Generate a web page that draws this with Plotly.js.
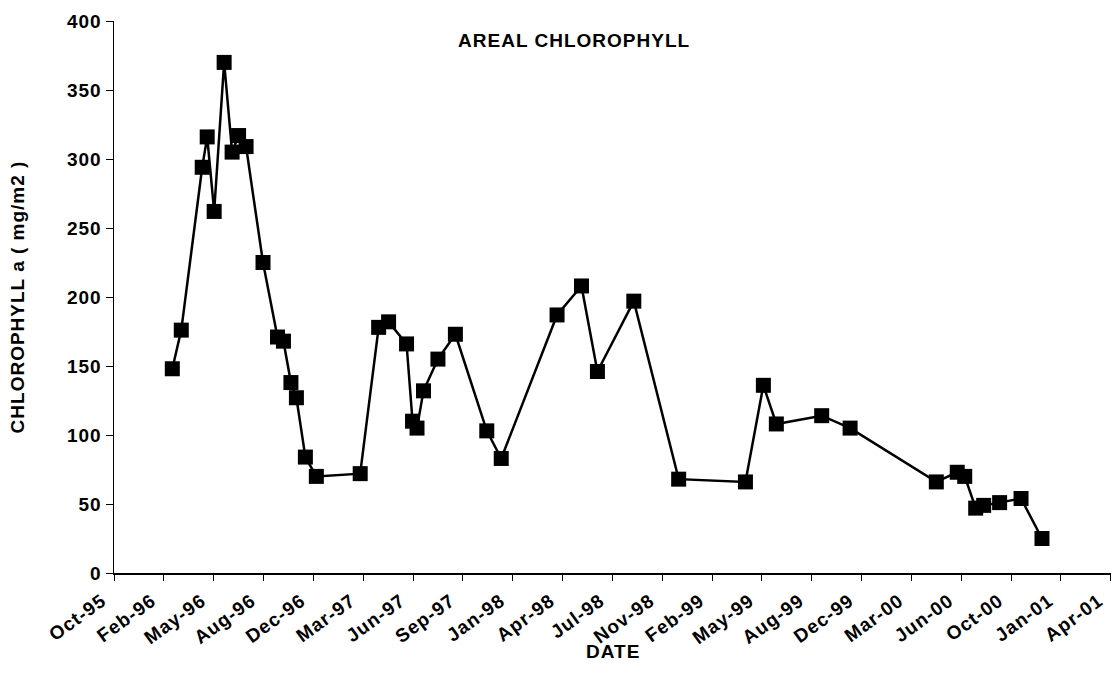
<!DOCTYPE html>
<html>
<head>
<meta charset="utf-8">
<script src="https://cdn.plot.ly/plotly-3.0.1.min.js"></script>
<style>
  html, body { margin: 0; padding: 0; background: #ffffff; }
  #chart { width: 1113px; height: 680px; }
  #chart text { letter-spacing: 1px; }
</style>
</head>
<body>
<div id="chart"></div>
<script>
// Sampling dates and areal chlorophyll a (mg/m2)
const sampleDates = [
  '1996-02-22', '1996-03-11', '1996-04-22', '1996-05-02', '1996-05-16',
  '1996-06-05', '1996-06-21', '1996-07-04', '1996-07-19', '1996-08-22',
  '1996-09-20', '1996-10-02', '1996-10-17', '1996-10-28', '1996-11-15',
  '1996-12-07', '1997-03-05', '1997-04-11', '1997-05-01', '1997-06-06',
  '1997-06-18', '1997-06-27', '1997-07-10', '1997-08-08', '1997-09-12',
  '1997-11-14', '1997-12-13', '1998-04-04', '1998-05-23', '1998-06-24',
  '1998-09-05', '1998-12-04', '1999-04-17', '1999-05-23', '1999-06-18',
  '1999-09-17', '1999-11-13', '2000-05-04', '2000-06-15', '2000-06-30',
  '2000-07-22', '2000-08-07', '2000-09-08', '2000-10-21', '2000-12-02'
];
const chlorophyll = [
  148, 176, 294, 316, 262,
  370, 305, 317, 309, 225,
  171, 168, 138, 127, 84,
  70, 72, 178, 182, 166,
  110, 105, 132, 155, 173,
  103, 83, 187, 208, 146,
  197, 68, 66, 136, 108,
  114, 105, 66, 73, 70,
  47, 49, 51, 54, 25
];

// Date axis ticks every 100 days
const tickDates = [
  '1995-10-28', '1996-02-05', '1996-05-15', '1996-08-23', '1996-12-01',
  '1997-03-11', '1997-06-19', '1997-09-27', '1998-01-05', '1998-04-15',
  '1998-07-24', '1998-11-01', '1999-02-09', '1999-05-20', '1999-08-28',
  '1999-12-06', '2000-03-15', '2000-06-23', '2000-10-01', '2001-01-09',
  '2001-04-19'
];
const tickLabels = [
  'Oct-95', 'Feb-96', 'May-96', 'Aug-96', 'Dec-96',
  'Mar-97', 'Jun-97', 'Sep-97', 'Jan-98', 'Apr-98',
  'Jul-98', 'Nov-98', 'Feb-99', 'May-99', 'Aug-99',
  'Dec-99', 'Mar-00', 'Jun-00', 'Oct-00', 'Jan-01',
  'Apr-01'
];
const yTicks = [0, 50, 100, 150, 200, 250, 300, 350, 400];

const font = 'Liberation Sans, Arial, sans-serif';

const trace = {
  type: 'scatter',
  mode: 'lines+markers',
  x: sampleDates,
  y: chlorophyll,
  line: { color: '#000000', width: 2.5 },
  marker: { symbol: 'square', size: 15, color: '#000000' },
  hoverinfo: 'x+y'
};

const layout = {
  width: 1113,
  height: 680,
  margin: { l: 114, r: 2, t: 21, b: 107 },
  paper_bgcolor: '#ffffff',
  plot_bgcolor: '#ffffff',
  showlegend: false,
  font: { family: font, color: '#000000', size: 19, weight: 'bold' },
  title: {
    text: 'AREAL CHLOROPHYLL',
    font: { family: font, size: 19, color: '#000000', weight: 'bold' },
    xref: 'paper', x: 0.4615, xanchor: 'center',
    yref: 'container', y: 0.94, yanchor: 'middle'
  },
  xaxis: {
    type: 'date',
    range: ['1995-10-28', '2001-04-19 12:00'],
    tickmode: 'array',
    tickvals: tickDates,
    ticktext: tickLabels,
    tickangle: -36,
    ticks: 'outside',
    ticklen: 6,
    tickwidth: 1,
    tickcolor: '#000000',
    ticklabelstandoff: 2,
    ticklabelshift: -12,
    ticklabeloverflow: 'allow',
    showline: true,
    linecolor: '#000000',
    linewidth: 1.5,
    showgrid: false,
    zeroline: false,
    tickfont: { family: font, size: 19, color: '#000000', weight: 'bold' }
  },
  yaxis: {
    range: [0, 400],
    tickmode: 'array',
    tickvals: yTicks,
    ticks: 'outside',
    ticklen: 7,
    tickwidth: 1,
    tickcolor: '#000000',
    showline: true,
    linecolor: '#000000',
    linewidth: 1.5,
    showgrid: false,
    zeroline: false,
    tickfont: { family: font, size: 19, color: '#000000', weight: 'bold' },
    title: {
      text: 'CHLOROPHYLL a ( mg/m2 )',
      standoff: 40,
      font: { family: font, size: 19, color: '#000000', weight: 'bold' }
    }
  },
  annotations: [{
    text: 'DATE',
    xref: 'paper', x: 0.5, xanchor: 'center',
    yref: 'paper', y: -0.142, yanchor: 'middle',
    showarrow: false,
    font: { family: font, size: 19, color: '#000000', weight: 'bold' }
  }]
};

Plotly.newPlot('chart', [trace], layout, { displayModeBar: false, staticPlot: true });
</script>
</body>
</html>
